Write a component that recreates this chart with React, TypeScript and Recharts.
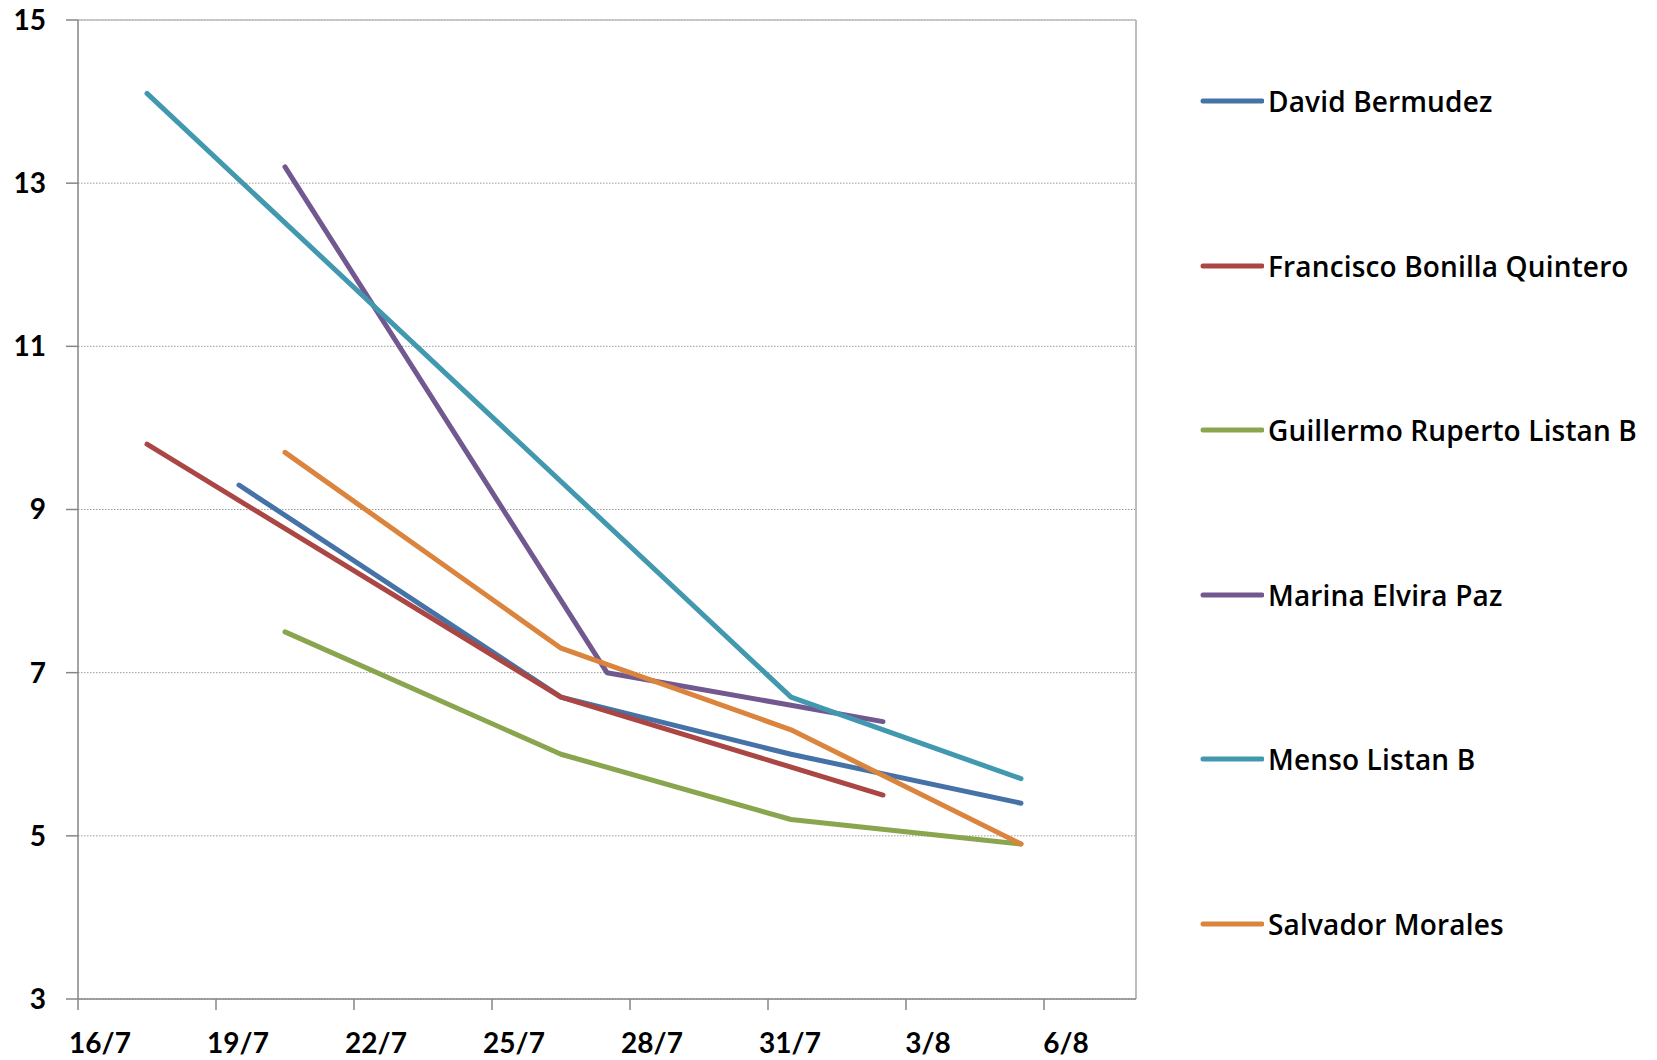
import React from "react";
import {
  LineChart,
  Line,
  XAxis,
  YAxis,
  CartesianGrid,
  Legend,
  ReferenceLine,
} from "recharts";

// x = days since 16/7
const DAYS = [1.5, 3.5, 4.5, 10.5, 11.5, 15.5, 17.5, 20.5];
const DAVID = [null, 9.3, null, 6.7, null, 6.0, null, 5.4];
const FRANCISCO = [9.8, null, null, 6.7, null, null, 5.5, null];
const GUILLERMO = [null, null, 7.5, 6.0, null, 5.2, null, 4.9];
const MARINA = [null, null, 13.2, null, 7.0, 6.6, 6.4, null];
const MENSO = [14.1, null, null, null, null, 6.7, null, 5.7];
const SALVADOR = [null, null, 9.7, 7.3, null, 6.3, null, 4.9];

const SERIES_NAMES = [
  "David Bermudez",
  "Francisco Bonilla Quintero",
  "Guillermo Ruperto Listan B",
  "Marina Elvira Paz",
  "Menso Listan B",
  "Salvador Morales",
];
const SERIES_VALUES = [DAVID, FRANCISCO, GUILLERMO, MARINA, MENSO, SALVADOR];
const COLORS = ["#4572A7", "#AA4643", "#89A54E", "#71588F", "#4198AF", "#DB843D"];

const X_TICKS = [0, 3, 6, 9, 12, 15, 18, 21];
const X_TICK_LABELS = ["16/7", "19/7", "22/7", "25/7", "28/7", "31/7", "3/8", "6/8"];
const Y_TICKS = [3, 5, 7, 9, 11, 13, 15];

const data = DAYS.map((d, i) => {
  const row: Record<string, number | null> = { day: d };
  SERIES_NAMES.forEach((name, s) => {
    row[name] = SERIES_VALUES[s][i];
  });
  return row;
});

const FONT = "Lato, 'Open Sans', sans-serif";
const LEGEND_FONT = "'Open Sans', Lato, sans-serif";
const LEGEND_WIDTH = 458;

const XTick = (props: any) => {
  const { x, y, payload } = props;
  const idx = X_TICKS.indexOf(payload.value);
  return (
    <text
      x={x + 22}
      y={y + 21}
      textAnchor="middle"
      fontFamily={FONT}
      fontWeight={700}
      fontSize={28}
      fill="#000"
    >
      {idx >= 0 ? X_TICK_LABELS[idx] : ""}
    </text>
  );
};

const LegendContent = (props: any) => {
  const { payload } = props;
  return (
    <div style={{ fontFamily: LEGEND_FONT }}>
      {(payload || []).map((p: any, i: number) => (
        <div
          key={i}
          style={{
            height: 40,
            marginBottom: 124.5,
            display: "flex",
            alignItems: "center",
            whiteSpace: "nowrap",
          }}
        >
          <svg width={64} height={10} style={{ display: "block" }}>
            <line
              x1={3}
              y1={5}
              x2={62}
              y2={5}
              stroke={p.color}
              strokeWidth={5}
              strokeLinecap="round"
            />
          </svg>
          <span
            style={{
              fontSize: 28,
              fontWeight: 600,
              color: "#000",
              marginLeft: 4,
              letterSpacing: 0.15,
            }}
          >
            {p.value}
          </span>
        </div>
      ))}
    </div>
  );
};

export default function App() {
  return (
    <div style={{ position: "absolute", left: 0, top: 0, width: 1657, height: 1060, background: "#fff" }}>
      <LineChart
        width={1657}
        height={1060}
        data={data}
        margin={{ top: 20, right: 521 - LEGEND_WIDTH, bottom: 0, left: 0 }}
      >
        <CartesianGrid
          vertical={false}
          horizontal={true}
          stroke="#9A9A9A"
          strokeDasharray="1.5 1.5"
        />
        <XAxis
          dataKey="day"
          type="number"
          domain={[0, 23]}
          ticks={X_TICKS}
          interval={0}
          height={61}
          tickSize={11}
          tickMargin={22}
          tick={<XTick />}
          axisLine={{ stroke: "#868686", strokeWidth: 1.5 }}
          tickLine={{ stroke: "#868686", strokeWidth: 1.5 }}
          allowDataOverflow
        />
        <YAxis
          type="number"
          domain={[3, 15]}
          ticks={Y_TICKS}
          interval={0}
          width={78}
          tickSize={12}
          tickMargin={20}
          tick={{ fontFamily: FONT, fontWeight: 700, fontSize: 28, fill: "#000" }}
          axisLine={{ stroke: "#868686", strokeWidth: 1.5 }}
          tickLine={{ stroke: "#868686", strokeWidth: 1.5 }}
          allowDataOverflow
        />
        <ReferenceLine y={15} stroke="#BDBDBD" strokeWidth={1.5} />
        <ReferenceLine x={23} stroke="#BDBDBD" strokeWidth={2} />
        <Legend
          layout="vertical"
          align="right"
          verticalAlign="top"
          content={<LegendContent />}
          wrapperStyle={{ position: "absolute", left: 1200, top: 81, width: LEGEND_WIDTH }}
        />
        {SERIES_NAMES.map((name, s) => (
          <Line
            key={name}
            dataKey={name}
            name={name}
            type="linear"
            stroke={COLORS[s]}
            strokeWidth={5}
            strokeLinecap="round"
            strokeLinejoin="round"
            dot={false}
            activeDot={false}
            connectNulls
            isAnimationActive={false}
          />
        ))}
      </LineChart>
    </div>
  );
}
